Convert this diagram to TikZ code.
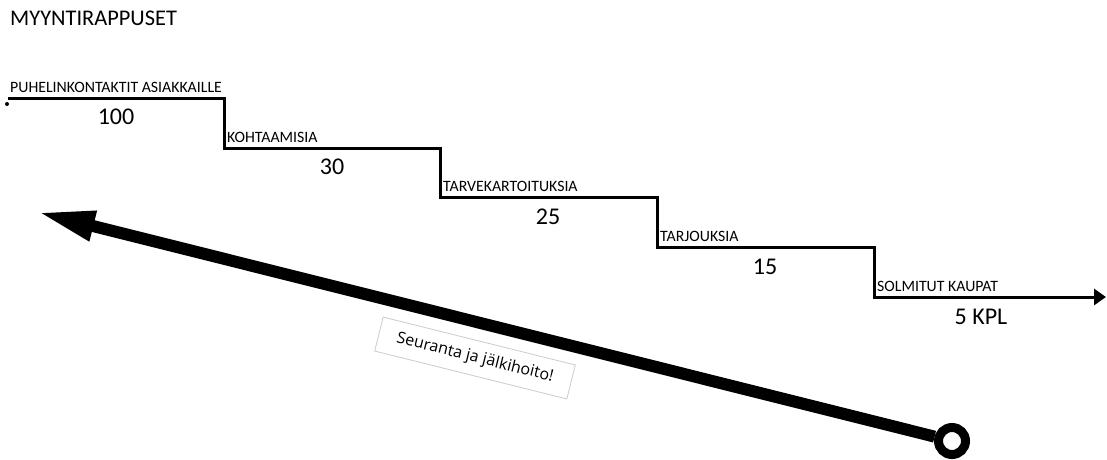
\documentclass[tikz,border=0pt]{standalone}
\usepackage{fontspec}
\setmainfont{Carlito}
\newfontfamily\boxfont{Open Sans}
\usetikzlibrary{arrows.meta}
\tikzset{
  stair/.style={line width=3pt, line join=miter},
  steplabel/.style={anchor=base west, inner sep=0pt, font=\fontsize{15.8}{16}\selectfont},
  count/.style={inner sep=0pt, font=\fontsize{24}{26}\selectfont},
}
\begin{document}
\begin{tikzpicture}[x=1pt,y=-1pt]
\useasboundingbox (0,0) rectangle (1107,459);
% title
\node[anchor=base west, inner sep=0pt, font=\fontsize{22.4}{24}\selectfont] (title) at (10,25.5) {MYYNTIRAPPUSET};
% staircase
\coordinate (s0) at (8,98);
\coordinate (a1) at (224,98);
\coordinate (b1) at (224,148);
\coordinate (a2) at (440,148);
\coordinate (b2) at (440,197);
\coordinate (a3) at (657,197);
\coordinate (b3) at (657,247);
\coordinate (a4) at (874,247);
\coordinate (b4) at (874,297);
\coordinate (e) at (1106,297);
\draw[stair, -{Triangle[length=12pt,width=16pt]}] (s0) -- (a1) -- (b1) -- (a2) -- (b2) -- (a3) -- (b3) -- (a4) -- (b4) -- (e);
\fill (7,104) circle (2pt);
% step labels
\node[steplabel] (l1) at (10,92.5) {PUHELINKONTAKTIT ASIAKKAILLE};
\node[steplabel] (l2) at (227,142.5) {KOHTAAMISIA};
\node[steplabel] (l3) at (443,191.5) {TARVEKARTOITUKSIA};
\node[steplabel] (l4) at (660,241.5) {TARJOUKSIA};
\node[steplabel] (l5) at (877,291.5) {SOLMITUT KAUPAT};
% counts
\node[count] (n1) at (116,117) {100};
\node[count] (n2) at (332,167) {30};
\node[count] (n3) at (548,217) {25};
\node[count] (n4) at (765,267) {15};
\node[count] (n5) at (981,317) {5 KPL};
% big arrow
\node[circle, draw, line width=9pt, minimum size=27pt, inner sep=0pt] (c) at (952,441) {};
\coordinate (t) at (37,212);
\draw[line width=12pt, -{Triangle[length=58pt,width=28pt]}] (c) -- (t);
% label box
\node[draw=black!20, fill=white, line width=0.8pt, rotate=-14, minimum width=198pt, minimum height=35pt, font=\boxfont\fontsize{16}{18}\selectfont] (lbl) at (475,358) {Seuranta ja jälkihoito!};
\end{tikzpicture}
\end{document}
